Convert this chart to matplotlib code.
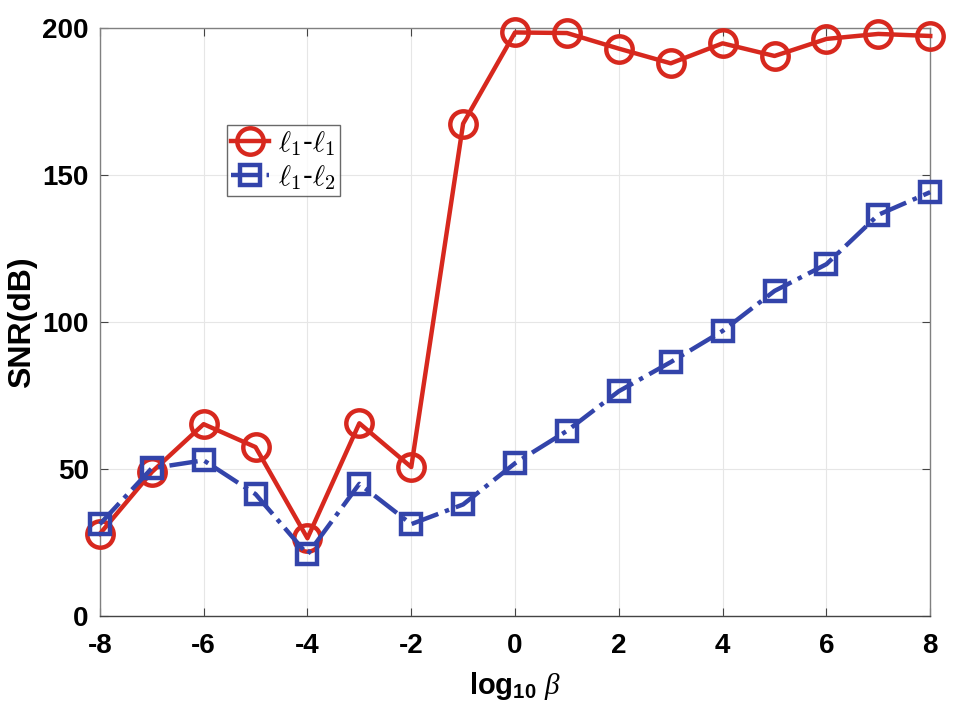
import matplotlib
matplotlib.use('Agg')
import matplotlib.pyplot as plt
from matplotlib.font_manager import FontProperties

plt.rcParams['font.family'] = ['Liberation Sans', 'DejaVu Sans']
plt.rcParams['font.weight'] = 'bold'
plt.rcParams['axes.unicode_minus'] = False
plt.rcParams['mathtext.fontset'] = 'custom'
plt.rcParams['mathtext.rm'] = 'Liberation Sans:weight=bold'
plt.rcParams['mathtext.it'] = 'Liberation Serif:style=italic:weight=normal'

log_beta = [-8, -7, -6, -5, -4, -3, -2, -1, 0, 1, 2, 3, 4, 5, 6, 7, 8]
snr_l1l1 = [28.0, 49.0, 65.3, 57.5, 26.5, 65.6, 50.7, 167.5, 198.5, 198.3, 193.0,
            188.0, 194.8, 190.5, 196.3, 198.0, 197.3]
snr_l1l2 = [31.3, 50.3, 53.0, 41.5, 21.0, 45.0, 31.3, 38.0, 52.0, 63.0, 76.5,
            86.4, 97.0, 110.6, 119.7, 136.5, 144.2]

RED = '#D7281E'
BLUE = '#3344AA'

fig = plt.figure(figsize=(9.6, 7.19), dpi=100)
ax = fig.add_axes([0.104, 0.143, 0.865, 0.818])

ax.plot(log_beta, snr_l1l1, color=RED, lw=3.2, marker='o', ms=19, mfc='none',
        mew=3.2, label=r'$\ell_1$-$\ell_1$', clip_on=False, zorder=3)
ax.plot(log_beta, snr_l1l2, color=BLUE, lw=3.2, ls='-.', marker='s', ms=15, mfc='none',
        mew=3.2, label=r'$\ell_1$-$\ell_2$', clip_on=False, zorder=3)

ax.set_xlim(-8, 8)
ax.set_ylim(0, 200)
ax.set_xticks(range(-8, 9, 2))
ax.set_yticks([0, 50, 100, 150, 200])
ax.grid(True, color='#e6e6e6', lw=0.8)
ax.set_axisbelow(True)
ax.tick_params(direction='in', labelsize=20, length=6, color='#444444',
               top=True, right=True)
ax.tick_params(axis='x', pad=12)
ax.tick_params(axis='y', pad=8)
for s in ax.spines.values():
    s.set_color('#808080')
    s.set_linewidth(1)
ax.spines['bottom'].set_color('#444444')

ax.set_ylabel('SNR(dB)', fontsize=23, fontweight='bold', labelpad=4)
ax.set_xlabel(r'log$_{10}$ $\beta$', fontsize=21, fontweight='bold', labelpad=8)

# legend in serif like the original
leg_font = FontProperties(family='DejaVu Serif', weight='normal', size=21,
                          math_fontfamily='cm')
leg = ax.legend(loc='upper left', bbox_to_anchor=(0.153, 0.835), prop=leg_font,
                frameon=True, fancybox=False, edgecolor='#444444',
                handlelength=1.3, handletextpad=0.3, borderpad=0.15,
                labelspacing=0.15, borderaxespad=0)
leg.get_frame().set_linewidth(1)

fig.savefig('out.png', dpi=100)
